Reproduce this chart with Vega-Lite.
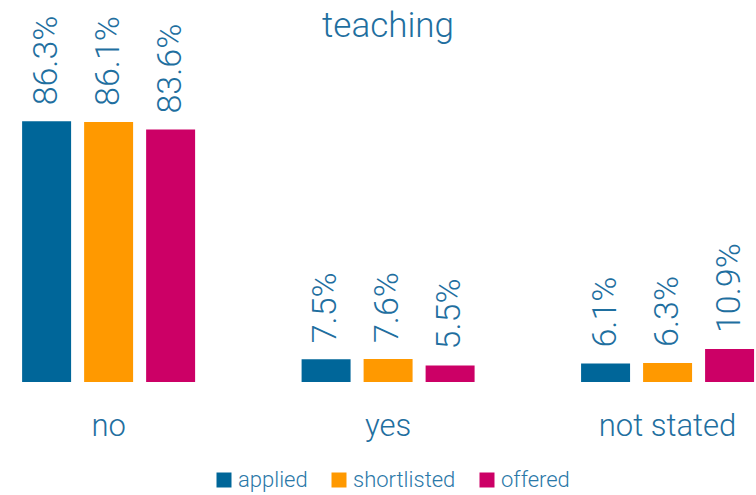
{
  "$schema": "https://vega.github.io/schema/vega-lite/v6.json",
  "width": 756,
  "height": 302,
  "autosize": {"type": "none"},
  "padding": {"left": 0, "top": 80, "right": 0, "bottom": 113},
  "background": "white",
  "title": {"text": "teaching", "fontSize": 35, "font": "Roboto", "fontWeight": 300, "color": "#1f6f9f", "frame": "group", "anchor": "middle", "baseline": "alphabetic", "offset": -56, "dx": 10},
  "config": {"view": {"stroke": null}, "font": "Roboto"},
  "data": {"values": [
    {"category": "no", "series": "applied", "value": 0.863},
    {"category": "no", "series": "shortlisted", "value": 0.861},
    {"category": "no", "series": "offered", "value": 0.836},
    {"category": "yes", "series": "applied", "value": 0.075},
    {"category": "yes", "series": "shortlisted", "value": 0.076},
    {"category": "yes", "series": "offered", "value": 0.055},
    {"category": "not stated", "series": "applied", "value": 0.061},
    {"category": "not stated", "series": "shortlisted", "value": 0.063},
    {"category": "not stated", "series": "offered", "value": 0.109}
  ]},
  "encoding": {
    "x": {"field": "category", "type": "nominal", "sort": ["no", "yes", "not stated"],
      "scale": {"paddingInner": 0.381, "paddingOuter": 0.043, "align": 0.92},
      "axis": {"title": null, "domain": false, "ticks": false, "labelAngle": 0, "labelFontSize": 31, "labelFont": "Roboto", "labelFontWeight": 300, "labelColor": "#1f6f9f", "labelPadding": 29}},
    "xOffset": {"field": "series", "type": "nominal", "sort": ["applied", "shortlisted", "offered"],
      "scale": {"paddingInner": 0.21, "paddingOuter": 0}},
    "y": {"field": "value", "type": "quantitative", "scale": {"domain": [0, 1]}, "axis": null}
  },
  "layer": [
    {"mark": {"type": "bar"},
     "encoding": {"color": {"field": "series", "type": "nominal", "sort": ["applied", "shortlisted", "offered"],
       "scale": {"domain": ["applied", "shortlisted", "offered"], "range": ["#006699", "#ff9900", "#cc0066"]},
       "legend": {"title": null, "orient": "none", "direction": "horizontal", "legendX": 213, "legendY": 389, "symbolType": "square", "symbolSize": 225, "symbolStrokeWidth": 0, "labelFontSize": 22, "labelFont": "Roboto", "labelFontWeight": 300, "labelColor": "#2a78a8", "columnPadding": 20, "labelOffset": 3}}}},
    {"mark": {"type": "text", "angle": 270, "align": "left", "baseline": "middle", "dx": 16, "fontSize": 34, "font": "Roboto", "fontWeight": 300, "color": "#1f6f9f"},
     "encoding": {"text": {"field": "value", "type": "quantitative", "format": ".1%"}}}
  ]
}
